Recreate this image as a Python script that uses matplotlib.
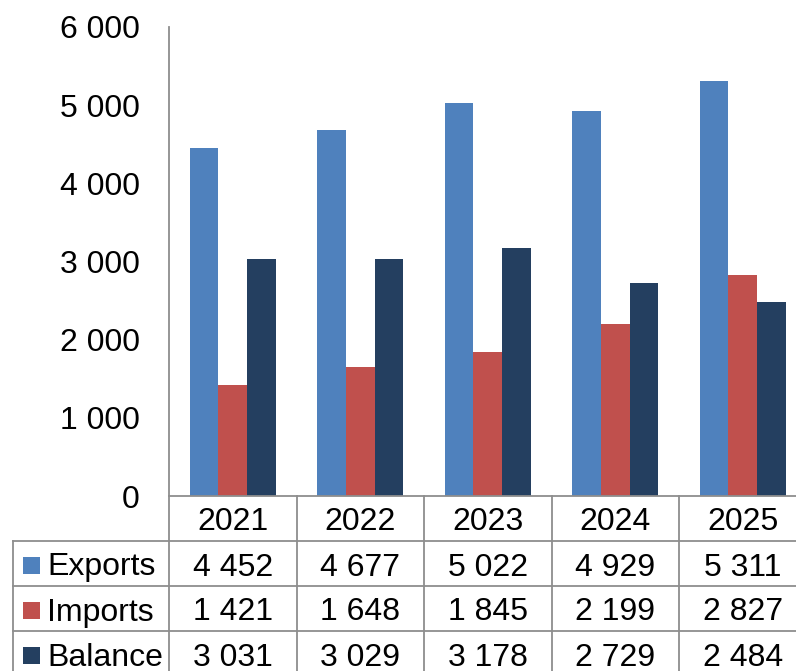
import matplotlib
matplotlib.use("Agg")
import numpy as np
from matplotlib import pyplot as plt
from matplotlib.transforms import blended_transform_factory
from matplotlib.patches import Rectangle

years = ["2021", "2022", "2023", "2024", "2025"]
series = ["Exports", "Imports", "Balance"]
exports = [4452, 4677, 5022, 4929, 5311]
imports = [1421, 1648, 1845, 2199, 2827]
balance = [3031, 3029, 3178, 2729, 2484]
colors = ["#4F81BD", "#C0504D", "#243F60"]

plt.rcParams["font.family"] = ["Liberation Sans", "DejaVu Sans"]


def fmt(v):
    return "{:,}".format(int(v)).replace(",", " ")


W, H = 796, 671
fig = plt.figure(figsize=(W / 100, H / 100), dpi=100)
# axes run past the right edge of the picture, like the cropped original
ax = fig.add_axes([169 / W, 1 - 496 / H, 637.5 / W, 469 / H])

x = np.arange(len(years))
bw = 0.225
for i, (vals, c) in enumerate(zip([exports, imports, balance], colors)):
    ax.bar(x + (i - 1) * bw, vals, width=bw, color=c, zorder=2)

ax.set_xlim(-0.5, len(years) - 0.5)
ax.set_ylim(0, 6000)
ax.set_yticks(range(0, 6001, 1000))
ax.set_yticklabels([fmt(v) for v in range(0, 6001, 1000)])
ax.set_xticks([])
ax.tick_params(axis="y", length=0, pad=21, labelsize=23)
for s in ["top", "right"]:
    ax.spines[s].set_visible(False)
gray = "#8E8E8E"
for s in ["left", "bottom"]:
    ax.spines[s].set_color(gray)
    ax.spines[s].set_linewidth(1.3)

# data table under the plot
trans = blended_transform_factory(ax.transData, ax.transAxes)
rh = 45 / 469            # row height in axes fraction
px = 1 / 127.5           # one pixel in data x units
py = 1 / 469             # one pixel in axes y fraction
x_left = -0.5 - 156 * px  # left border of row label column
x_right = len(years) - 0.5
lkw = dict(color=gray, lw=1.3, transform=trans, clip_on=False)

# horizontal lines
for r in range(1, 5):
    ax.plot([x_left, x_right], [-r * rh, -r * rh], **lkw)
# vertical lines
for i in range(len(years) + 1):
    ax.plot([i - 0.5, i - 0.5], [0, -4 * rh], **lkw)
ax.plot([x_left, x_left], [-rh, -4 * rh], **lkw)

fs = 23
dy = 4 * py
tkw = dict(transform=trans, fontsize=fs, va="center", ha="center", clip_on=False)
for i, yr in enumerate(years):
    ax.text(i, -0.5 * rh - dy, yr, **tkw)
for r, (name, vals, c) in enumerate(zip(series, [exports, imports, balance], colors)):
    yc = -(r + 1.5) * rh
    for i, v in enumerate(vals):
        ax.text(i, yc - dy, fmt(v), **tkw)
    sq = 17 * py
    ax.add_patch(Rectangle((x_left + 10 * px, yc - sq / 2 - dy / 2), 17 * px, sq,
                           facecolor=c, edgecolor="none", transform=trans,
                           clip_on=False))
    ax.text(x_left + 34 * px, yc - dy, name, transform=trans, fontsize=fs,
            va="center", ha="left", clip_on=False)

fig.savefig("out.png", dpi=100)
